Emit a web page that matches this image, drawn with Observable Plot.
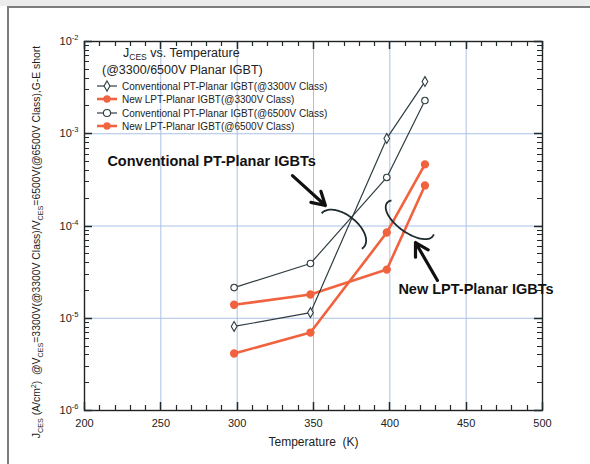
<!DOCTYPE html>
<html>
<head>
<meta charset="utf-8">
<script src="https://cdn.jsdelivr.net/npm/d3@7"></script>
<script src="https://cdn.jsdelivr.net/npm/@observablehq/plot@0.6"></script>
<style>
  html, body { margin: 0; padding: 0; background: #fff; width: 590px; height: 464px; overflow: hidden; position: relative; }
  #band { position: absolute; left: 0; top: 0; width: 590px; height: 6px; background: #ececec; }
  #hline { position: absolute; left: 7px; top: 6px; width: 583px; height: 2px; background: #7c7c7c; }
  #vline { position: absolute; left: 7px; top: 6px; width: 2px; height: 458px; background: #7c7c7c; }
  #chart { position: absolute; left: 0; top: 0; }
</style>
</head>
<body>
<div id="band"></div><div id="hline"></div><div id="vline"></div>
<div id="chart"></div>
<script>
// ---- data ----
const temps = [298, 348, 398, 423];
const convPT3300 = [8.15e-6, 1.15e-5, 8.9e-4, 3.68e-3];
const lptPT3300  = [4.15e-6, 7.0e-6, 8.5e-5, 4.65e-4];
const convPT6500 = [2.15e-5, 3.92e-5, 3.36e-4, 2.29e-3];
const lptPT6500  = [1.4e-5, 1.81e-5, 3.37e-5, 2.75e-4];
const seriesNames = [
  "Conventional PT-Planar IGBT(@3300V Class)",
  "New LPT-Planar IGBT(@3300V Class)",
  "Conventional PT-Planar IGBT(@6500V Class)",
  "New LPT-Planar IGBT(@6500V Class)"
];
const xTicks = [200, 250, 300, 350, 400, 450, 500];
const yTicks = [1e-6, 1e-5, 1e-4, 1e-3, 1e-2];
const annotationLabels = ["Conventional PT-Planar IGBTs", "New LPT-Planar IGBTs"];
const annotationTextAt = [{x: 215, y: 5.0e-4}, {x: 405.6, y: 2.05e-5}];
const arrowTail = [{x: 336.2, y: 3.52e-4}, {x: 431.2, y: 2.57e-5}];
const arrowHead = [{x: 357.8, y: 1.67e-4}, {x: 416.8, y: 6.62e-5}];
const bracketCenters = [{x: 369.6, y: 8.93e-5}, {x: 413.5, y: 1.16e-4}];

// ---- build tables ----
const allSeries = [convPT3300, lptPT3300, convPT6500, lptPT6500];
const rows = [];
allSeries.forEach((vals, s) => vals.forEach((v, i) => rows.push({series: seriesNames[s], s, T: temps[i], J: v})));
const minorX = d3.range(200, 501, 10);
const minorY = [];
for (let e = -6; e < -2; e++) for (let m = 2; m <= 9; m++) minorY.push(m * Math.pow(10, e));

const BLACK = "#2f3d42", RED = "#f1623f", GRID = "#a9c1e6";
const W = 590, H = 464, ML = 84, MR = 48, MT = 41, MB = 54;
const isRed = s => s === 1 || s === 3;
const symbolFor = s => s === 0 ? "diamond" : "circle";

// inward ticks on all four sides of the frame, drawn as one path
function frameTicksMark(index, scales) {
  const top = MT, bot = H - MB, left = ML, right = W - MR;
  const p = d3.path(), pb = d3.path();
  minorX.forEach(v => {
    const x = Math.round(scales.x(v)) + 0.5, big = xTicks.includes(v), L = big ? 8 : 5;
    const q = big ? pb : p;
    q.moveTo(x, bot); q.lineTo(x, bot - L); q.moveTo(x, top); q.lineTo(x, top + L);
  });
  minorY.forEach(v => { const y = Math.round(scales.y(v)) + 0.5;
    p.moveTo(left, y); p.lineTo(left + 5, y); p.moveTo(right, y); p.lineTo(right - 5, y); });
  yTicks.forEach(v => { const y = Math.round(scales.y(v)) + 0.5;
    pb.moveTo(left, y); pb.lineTo(left + 8, y); pb.moveTo(right, y); pb.lineTo(right - 8, y); });
  const g = d3.create("svg:g");
  g.append("path").attr("d", p.toString()).attr("fill", "none").attr("stroke", "#1e2a2e").attr("stroke-width", 1.2);
  g.append("path").attr("d", pb.toString()).attr("fill", "none").attr("stroke", "#1e2a2e").attr("stroke-width", 1.5);
  return g.node();
}

function bracketMark(index, scales) {
  const shapes = [
    {a: 27, b: 15, ang: 38, t0: -180, t1: 14},
    {a: 28.3, b: 13, ang: 35.6, t0: -8, t1: 203}
  ];
  const g = d3.create("svg:g").attr("fill", "none").attr("stroke", "#1d2a2e").attr("stroke-width", 1.8);
  bracketCenters.forEach((c, k) => {
    const sh = shapes[k];
    const cx = scales.x(c.x), cy = scales.y(c.y);
    const r = sh.ang * Math.PI / 180;
    const u = [Math.cos(r), Math.sin(r)], v = [-Math.sin(r), Math.cos(r)];
    const pts = d3.range(sh.t0, sh.t1 + 0.5, 3).map(t => {
      const tr = t * Math.PI / 180;
      return [cx + sh.a * Math.cos(tr) * u[0] + sh.b * Math.sin(tr) * v[0],
              cy + sh.a * Math.cos(tr) * u[1] + sh.b * Math.sin(tr) * v[1]];
    });
    g.append("path").attr("d", d3.line().curve(d3.curveCatmullRom)(pts));
  });
  return g.node();
}

function legendMark() {
  const x0 = ML, y0 = MT;
  const g = d3.create("svg:g").attr("font-family", "Liberation Sans, Arial, sans-serif")
    .attr("fill", "#222").attr("text-anchor", "start");
  const t1 = g.append("text").attr("x", x0 + 39).attr("y", y0 + 16).attr("font-size", 12.5);
  t1.append("tspan").text("J");
  t1.append("tspan").attr("font-size", 8.5).attr("dy", 3).text("CES");
  t1.append("tspan").attr("dy", -3).text(" vs. Temperature");
  g.append("text").attr("x", x0 + 18).attr("y", y0 + 33).attr("font-size", 12.5).text("(@3300/6500V Planar IGBT)");
  const ry = [45, 58, 72, 85];
  seriesNames.forEach((name, s) => {
    const y = y0 + ry[s];
    const col = isRed(s) ? RED : BLACK;
    g.append("line").attr("x1", x0 + 13).attr("x2", x0 + 33).attr("y1", y).attr("y2", y)
      .attr("stroke", col).attr("stroke-width", isRed(s) ? 2.6 : 1.2);
    const sym = d3.symbol(s === 0 ? d3.symbolDiamond : d3.symbolCircle, s === 2 ? 40 : 30)();
    g.append("path").attr("d", sym).attr("transform", `translate(${x0 + 23},${y})`)
      .attr("fill", isRed(s) ? RED : "#fff").attr("stroke", col).attr("stroke-width", 1.1);
    g.append("text").attr("x", x0 + 38).attr("y", y + 3.6).attr("font-size", 10).text(name);
  });
  return g.node();
}

function yLabelMark() {
  const g = d3.create("svg:g");
  const t = g.append("text").attr("transform", "translate(40,242) rotate(-90)")
    .attr("text-anchor", "middle").attr("font-size", 10.4).attr("fill", "#222")
    .attr("font-family", "Liberation Sans, Arial, sans-serif");
  const parts = [
    ["J", 0], ["CES", 1], [" (A/cm", -1], ["2", 2], [")  @V", -2], ["CES", 1], ["=3300V(@3300V Class)/V", -1],
    ["CES", 1], ["=6500V(@6500V Class),G-E short", -1]
  ];
  let cur = 0;
  const off = m => m === 1 ? 3 : m === 2 ? -4 : 0;
  parts.forEach(([txt, mode]) => {
    const ts = t.append("tspan").text(txt);
    const target = mode < 0 ? 0 : mode;
    const dy = off(target) - off(cur);
    if (dy) ts.attr("dy", dy);
    if (target) ts.attr("font-size", 7.2);
    cur = target;
  });
  return g.node();
}

const chart = Plot.plot({
  width: W, height: H,
  marginLeft: ML, marginRight: MR, marginTop: MT, marginBottom: MB,
  style: {fontFamily: "Liberation Sans, Arial, sans-serif", fontSize: "11px", background: "transparent", color: "#222"},
  x: {domain: [200, 500], ticks: xTicks, tickSize: 0, tickPadding: 9, label: null},
  y: {type: "log", domain: [1e-6, 1e-2], ticks: yTicks, tickSize: 0, tickPadding: 6, label: null,
      tickFormat: d => String(Math.round(Math.log10(d)))},
  marks: [
    Plot.ruleX(xTicks, {stroke: GRID, strokeWidth: 1}),
    Plot.ruleY(yTicks, {stroke: GRID, strokeWidth: 1}),
    Plot.frame({stroke: "#222", strokeWidth: 1.4}),
    frameTicksMark,
    Plot.line(rows.filter(d => isRed(d.s)), {x: "T", y: "J", z: "series", stroke: RED, strokeWidth: 2.6}),
    Plot.line(rows.filter(d => !isRed(d.s)), {x: "T", y: "J", z: "series", stroke: BLACK, strokeWidth: 1.2}),
    Plot.dot(rows.filter(d => !isRed(d.s)), {x: "T", y: "J", symbol: d => symbolFor(d.s), r: d => d.s === 2 ? 3.8 : 3.2,
      fill: "#fff", stroke: BLACK, strokeWidth: 1.1}),
    Plot.dot(rows.filter(d => isRed(d.s)), {x: "T", y: "J", r: 3.4, fill: RED, stroke: RED}),
    bracketMark,
    Plot.arrow(d3.range(arrowTail.length), {
      x1: i => arrowTail[i].x, y1: i => arrowTail[i].y, x2: i => arrowHead[i].x, y2: i => arrowHead[i].y,
      stroke: "#111", strokeWidth: 3.2, headLength: 9, headAngle: 60
    }),
    Plot.text(d3.range(annotationLabels.length), {
      x: i => annotationTextAt[i].x, y: i => annotationTextAt[i].y, text: i => annotationLabels[i],
      textAnchor: "start", fontWeight: "bold", fontSize: 14.5, fill: "#111"
    }),
    legendMark,
    yLabelMark,
    Plot.text(["Temperature  (K)"], {frameAnchor: "bottom", dy: 35, fontSize: 12, fill: "#222"})
  ]
});

// turn the y tick labels into 10 with a superscript exponent
chart.querySelectorAll('g[aria-label="y-axis tick label"] text').forEach(t => {
  const e = t.textContent;
  t.textContent = "";
  const ns = "http://www.w3.org/2000/svg";
  const a = document.createElementNS(ns, "tspan"); a.textContent = "10";
  const b = document.createElementNS(ns, "tspan"); b.textContent = e;
  b.setAttribute("dy", "-5"); b.setAttribute("font-size", "7.5");
  t.appendChild(a); t.appendChild(b);
});

document.getElementById("chart").appendChild(chart);
</script>
</body>
</html>
